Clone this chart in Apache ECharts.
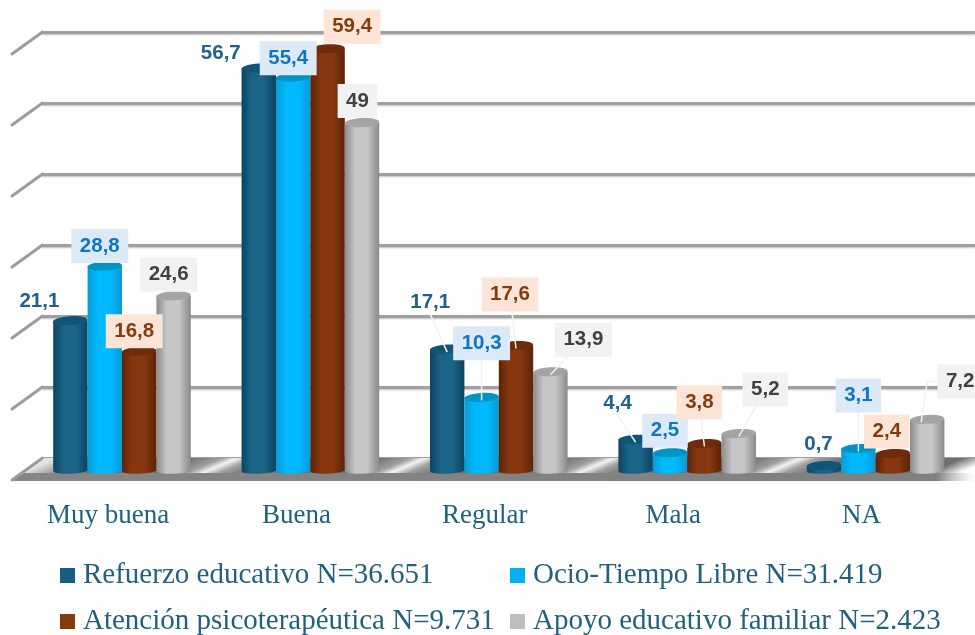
<!DOCTYPE html>
<html>
<head>
<meta charset="utf-8">
<style>
  html, body { margin: 0; padding: 0; background: #fff; }
  #chart { width: 975px; height: 635px; }
</style>
</head>
<body>
<div id="chart"></div>
<script src="https://cdn.jsdelivr.net/npm/echarts@6/dist/echarts.min.js"></script>
<script>
// datos
const categories = ["Muy buena", "Buena", "Regular", "Mala", "NA"];
const seriesNames = [
  "Refuerzo educativo N=36.651",
  "Ocio-Tiempo Libre N=31.419",
  "Atención psicoterapéutica N=9.731",
  "Apoyo educativo familiar N=2.423",
];
const refuerzo = [21.1, 56.7, 17.1, 4.4, 0.7];
const ocio = [28.8, 55.4, 10.3, 2.5, 3.1];
const atencion = [16.8, 59.4, 17.6, 3.8, 2.4];
const apoyo = [24.6, 49, 13.9, 5.2, 7.2];
const tickValues = [0, 10, 20, 30, 40, 50, 60];

// desplazamiento de cada etiqueta respecto a la parte alta de su cilindro
const labelShift = [
  [[-31, -19], [-38, -15], [-17, -47], [-18, -36], [-5.5, -21]],
  [[-5, -20], [-5, -19], [0, -54], [-5, -22], [0, -53]],
  [[-5, -20], [24.5, -22], [-6, -51], [-5, -41], [-6, -22]],
  [[-5, -21], [-4.5, -21.5], [33, -32], [26.5, -44], [33, -38]],
];

const allValues = [refuerzo, ocio, atencion, apoyo];
const FONT_SERIF = '"Liberation Serif"';
const TEXT_COLOR = "#20617f";
const DEPTH_X = -30;
const DEPTH_Y = 22;
const BAR_RATIO = 0.1826;
const TOP_RY = 4.5;
const BASE_RY = 3.2;
const TILT = 0.05;

const barColors = [
  { edge: "#0c4361", mid: "#1a6488", top: "#0f5577", item: "#156082" },
  { edge: "#0a9bd4", mid: "#00b9ff", top: "#0093c6", item: "#00b0f0" },
  { edge: "#5c2308", mid: "#873710", top: "#6e2c0c", item: "#843c0c" },
  { edge: "#8a8a8a", mid: "#c6c6c6", top: "#a4a4a4", item: "#bfbfbf" },
];
const labelStyles = [
  { fill: "#1f6389", bg: null },
  { fill: "#0f75c5", bg: "#dce9f7" },
  { fill: "#843c0c", bg: "#fce4d6" },
  { fill: "#404040", bg: "#f2f2f2" },
];

function barX(api, catIndex, k) {
  const band = api.size([1, 0])[0];
  return api.coord([catIndex, 0])[0] + (k - 1.5) * band * BAR_RATIO;
}

function cylinderRender(k) {
  return function (params, api) {
    const cat = api.value(0);
    const band = api.size([1, 0])[0];
    const w = band * BAR_RATIO;
    const cx = barX(api, cat, k);
    const base = api.coord([cat, 0])[1];
    const top = api.coord([cat, api.value(1)])[1];
    const c = barColors[k];
    const body = {
      type: "linear", x: 0, y: 0, x2: 1, y2: 0,
      colorStops: [
        { offset: 0, color: c.edge },
        { offset: 0.3, color: c.mid },
        { offset: 0.65, color: c.mid },
        { offset: 1, color: c.edge },
      ],
    };
    return {
      type: "group",
      children: [
        {
          type: "ellipse",
          shape: { cx: cx, cy: base, rx: w / 2, ry: BASE_RY },
          rotation: TILT, originX: cx, originY: base,
          style: { fill: body },
        },
        { type: "rect", shape: { x: cx - w / 2, y: top, width: w, height: base - top }, style: { fill: body } },
        {
          type: "ellipse",
          shape: { cx: cx, cy: top, rx: w / 2, ry: TOP_RY },
          rotation: TILT, originX: cx, originY: top,
          style: { fill: c.top },
        },
      ],
    };
  };
}

function labelRender(params, api) {
  const cat = api.value(0);
  const k = api.value(1);
  const v = api.value(2);
  const shift = labelShift[k][cat];
  const cx = barX(api, cat, k);
  const top = api.coord([cat, v])[1];
  const lx = cx + shift[0];
  const ly = top + shift[1];
  const st = labelStyles[k];
  const children = [];
  if (shift[1] < -30) {
    // linea guia hacia el cilindro
    const startY = st.bg ? ly : ly + 12;
    const pts = k === 3 && cat === 4
      ? [[lx, ly], [cx, ly], [cx - 6, top + 3]]
      : [[lx, startY], [cx, top + 3]];
    children.push({
      type: "polyline",
      shape: { points: pts },
      style: { stroke: "#f2f2f2", lineWidth: 1.5, fill: "none" },
    });
  }
  children.push({
    type: "text",
    style: {
      text: String(v).replace(".", ","),
      x: lx,
      y: ly,
      fill: st.fill,
      font: 'bold 20.5px "Liberation Sans"',
      align: "center",
      verticalAlign: "middle",
      backgroundColor: st.bg || "transparent",
      padding: st.bg ? [7, 8.5, 6, 8.5] : 0,
    },
  });
  return { type: "group", children: children };
}

// suelo con reflejos diagonales
function floorStops() {
  const stops = [
    { offset: 0, color: "#e4e4e4" },
    { offset: 0.035, color: "#9a9a9a" },
    { offset: 0.07, color: "#6f6f6f" },
  ];
  [0.193, 0.393, 0.593, 0.793].forEach((s) => {
    stops.push({ offset: s - 0.05, color: "#6f6f6f" });
    stops.push({ offset: s - 0.016, color: "#a0a0a0" });
    stops.push({ offset: s, color: "#f4f4f4" });
    stops.push({ offset: s + 0.018, color: "#a0a0a0" });
    stops.push({ offset: s + 0.05, color: "#6f6f6f" });
  });
  stops.push({ offset: 0.965, color: "#6f6f6f" });
  stops.push({ offset: 0.995, color: "#f0f0f0" });
  stops.push({ offset: 1, color: "#ffffff" });
  return stops;
}

function floorRender(params, api) {
  const a = api.coord([0, 0]);
  const b = api.coord([1, 0]);
  const frontY = a[1] + DEPTH_Y + 1;
  const stripH = 8;
  const stripLeft = a[0] + DEPTH_X * (1 - stripH / (DEPTH_Y + 1));
  return {
    type: "group",
    children: [
      {
        type: "polygon",
        shape: { points: [a, b, [b[0], frontY], [a[0] + DEPTH_X, frontY]] },
        style: {
          fill: {
            type: "linear", global: true,
            x: 28, y: 470, x2: 28 + 146.5, y2: 470 + 341,
            colorStops: floorStops(),
          },
        },
      },
      {
        type: "polygon",
        shape: {
          points: [
            [stripLeft, frontY - stripH],
            [b[0], frontY - stripH],
            [b[0], frontY],
            [a[0] + DEPTH_X, frontY],
          ],
        },
        style: {
          fill: {
            type: "linear", x: 0, y: 0, x2: 1, y2: 0,
            colorStops: [
              { offset: 0, color: "#858585" },
              { offset: 0.96, color: "#808080" },
              { offset: 1, color: "rgba(255,255,255,0.5)" },
            ],
          },
        },
      },
    ],
  };
}

function wallRender(params, api) {
  const p = api.coord([0, api.value(0)]);
  return {
    type: "line",
    shape: { x1: p[0] + 0.5, y1: p[1], x2: p[0] + DEPTH_X, y2: p[1] + DEPTH_Y },
    style: { stroke: "#9c9c9c", lineWidth: 3, lineCap: "round" },
  };
}

const labelData = [];
allValues.forEach((vals, k) => vals.forEach((v, i) => labelData.push([i, k, v])));

const legendPos = [
  { left: 60, top: 561 },
  { left: 510, top: 561 },
  { left: 60, top: 607 },
  { left: 510, top: 607 },
];

const option = {
  animation: false,
  backgroundColor: "#ffffff",
  legend: seriesNames.map((name, k) => ({
    data: [name],
    left: legendPos[k].left,
    top: legendPos[k].top,
    padding: 0,
    icon: "rect",
    itemWidth: 15,
    itemHeight: 15,
    itemGap: 0,
    selectedMode: false,
    textStyle: { fontFamily: FONT_SERIF, fontSize: 29, color: TEXT_COLOR, padding: [0, 0, 0, 3] },
  })),
  grid: [
    { left: 27.8, width: 942, top: 44.5, height: 426 },
    { left: 42, right: 0, top: 32, height: 426 },
  ],
  xAxis: [
    {
      type: "category",
      gridIndex: 0,
      data: categories,
      axisLine: { show: false },
      axisTick: { show: false },
      axisLabel: {
        fontFamily: FONT_SERIF,
        fontSize: 27,
        color: TEXT_COLOR,
        margin: 32,
        padding: [0, 28, 0, 0],
      },
    },
    { type: "value", gridIndex: 1, min: 0, max: 1, show: false },
  ],
  yAxis: [
    { type: "value", gridIndex: 0, min: 0, max: 60, interval: 10, show: false },
    {
      type: "value",
      gridIndex: 1,
      min: 0,
      max: 60,
      interval: 10,
      axisLine: { show: false },
      axisTick: { show: false },
      axisLabel: { show: false },
      splitLine: {
        show: true,
        lineStyle: { color: "#a0a0a0", width: 3, shadowColor: "rgba(0,0,0,0.25)", shadowBlur: 2, shadowOffsetY: 1 },
      },
    },
  ],
  series: [
    {
      type: "custom",
      xAxisIndex: 1,
      yAxisIndex: 1,
      z: 1,
      silent: true,
      clip: false,
      data: [0],
      renderItem: floorRender,
    },
    {
      type: "custom",
      xAxisIndex: 1,
      yAxisIndex: 1,
      z: 1,
      silent: true,
      clip: false,
      data: tickValues,
      encode: { y: 0 },
      renderItem: wallRender,
    },
    ...allValues.map((vals, k) => ({
      type: "custom",
      name: seriesNames[k],
      xAxisIndex: 0,
      yAxisIndex: 0,
      z: 3,
      clip: false,
      itemStyle: { color: barColors[k].item },
      data: vals.map((v, i) => [i, v]),
      encode: { x: 0, y: 1 },
      renderItem: cylinderRender(k),
    })),
    {
      type: "custom",
      xAxisIndex: 0,
      yAxisIndex: 0,
      z: 5,
      silent: true,
      clip: false,
      data: labelData,
      encode: { x: 0, y: 2 },
      renderItem: labelRender,
    },
  ],
};

const chart = echarts.init(document.getElementById("chart"));
chart.setOption(option);
</script>
</body>
</html>
